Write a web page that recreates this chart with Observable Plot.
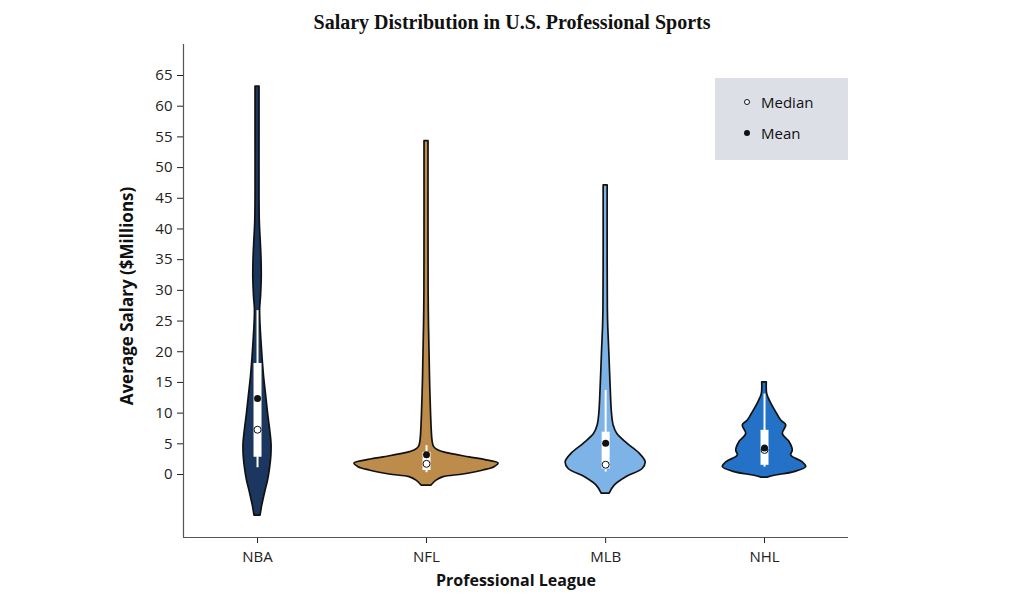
<!DOCTYPE html>
<html>
<head>
<meta charset="utf-8">
<script src="https://cdn.jsdelivr.net/npm/d3@7"></script>
<script src="https://cdn.jsdelivr.net/npm/@observablehq/plot@0.6"></script>
<style>
  html, body { margin: 0; padding: 0; background: #fff; }
  #wrap { position: relative; width: 1024px; height: 602px; overflow: hidden; }
  #title { height: 40px; line-height: 44px; text-align: center; font-family: "Liberation Serif", "Times New Roman", serif; font-weight: bold; font-size: 20px; color: #111; }
  #legend { position: absolute; left: 715px; top: 78px; width: 133px; height: 82px; background: #dcdfe6; font-family: "Open Sans", sans-serif; font-size: 15px; color: #111; }
  .li { position: absolute; left: 29px; height: 20px; display: flex; align-items: center; }
  .mk { width: 6px; height: 6px; border-radius: 50%; box-sizing: border-box; margin-right: 11px; }
</style>
</head>
<body>
<div id="wrap">
  <div id="title">Salary Distribution in U.S. Professional Sports</div>
  <div id="chart"></div>
  <div id="legend">
    <div class="li" style="top:14px"><span class="mk" style="border:1.2px solid #111;background:#fff"></span>Median</div>
    <div class="li" style="top:45px"><span class="mk" style="background:#111"></span>Mean</div>
  </div>
</div>
<script>
// ---- data ----
const leagues = ["NBA", "NFL", "MLB", "NHL"];
const positions = [0, 1, 2.06, 3];
const colors = ["#1b365f", "#bd8c4b", "#7db3e6", "#2372c8"];
const yTicks = [0, 5, 10, 15, 20, 25, 30, 35, 40, 45, 50, 55, 60, 65];

// density profiles (salary level, relative density)
const nbaSalary  = [63.2, 55, 45, 41, 38, 35, 32, 29, 27, 25, 22, 19, 16, 13, 10, 7, 5, 3, 1, -1, -3, -5, -6.7];
const nbaDensity = [2.0, 2.0, 2.0, 2.3, 3.2, 4.0, 4.2, 3.5, 2.6, 2.8, 3.8, 5.0, 6.5, 8.5, 10.5, 12.8, 14, 13.8, 12.5, 10.5, 7.5, 4.8, 3];

const nflSalary  = [54.3, 40, 30, 25, 20, 15, 10, 7, 5.5, 4.5, 3.9, 3.4, 2.8, 2.3, 1.8, 1.2, 0.65, 0.0, -0.43, -1.0, -1.8];
const nflDensity = [2, 2, 2.1, 2.4, 3, 3.6, 4.5, 5.3, 6, 7.5, 12, 23, 43, 60, 72, 68, 57, 37, 17, 10, 5];

const mlbSalary  = [47.1, 35, 27, 24, 19.7, 14.2, 10, 8.0, 6.6, 5.0, 3.4, 2.0, 0.9, -0.4, -1.8, -3.1];
const mlbDensity = [2, 2, 2.2, 2.6, 3.7, 5, 6.3, 8, 11.7, 22, 34, 40, 37, 21, 9, 4];

const nhlSalary  = [15.0, 13.1, 11.8, 9.9, 8.8, 8.0, 6.6, 5.3, 3.9, 3.1, 2.0, 1.2, 0.4, -0.2, -0.5];
const nhlDensity = [2.3, 2.7, 6, 12.5, 16.7, 21.7, 18.3, 25, 28.3, 26.7, 38, 41.7, 30, 10, 3];

// summary statistics
const q1 = [2.8, 0.65, 0.9, 1.5];
const q3 = [18.1, 3.6, 6.9, 7.2];
const whiskerLow = [1.1, 0.3, 0.4, 1.2];
const whiskerHigh = [26.7, 4.7, 13.7, 13.1];
const medians = [7.3, 1.74, 1.6, 4.0];
const means = [12.4, 3.2, 5.1, 4.3];

// ---- build tables ----
const profiles = [[nbaSalary, nbaDensity], [nflSalary, nflDensity], [mlbSalary, mlbDensity], [nhlSalary, nhlDensity]];
const rows = [];
profiles.forEach(([s, d], i) => s.forEach((v, j) => rows.push({league: leagues[i], pos: positions[i], y: v, d: d[j]})));
const stats = leagues.map((l, i) => ({league: l, pos: positions[i], q1: q1[i], q3: q3[i], lo: whiskerLow[i], hi: whiskerHigh[i], median: medians[i], mean: means[i]}));

const k = 1 / 169; // density -> x units
const xDomain = [-0.438, 3.497];
const yDomain = [-10.26, 70.05];
const font = "'Open Sans', sans-serif";

const chart = Plot.plot({
  width: 1024,
  height: 562,
  marginTop: 4,
  marginBottom: 65,
  marginLeft: 183,
  marginRight: 176,
  style: {fontFamily: font, fontSize: "15px", color: "#222", background: "transparent"},
  x: {domain: xDomain, ticks: positions, tickFormat: d => leagues[positions.indexOf(d)], tickSize: 6, tickPadding: 8, label: null},
  y: {domain: yDomain, ticks: yTicks, tickSize: 6, tickPadding: 5, label: null},
  color: {domain: leagues, range: colors},
  marks: [
    Plot.areaX(rows, {y: "y", x1: d => d.pos - d.d * k, x2: d => d.pos + d.d * k, z: "league", fill: "league", stroke: "#111", strokeWidth: 1.7, curve: "catmull-rom"}),
    Plot.ruleX(stats, {x: "pos", y1: "lo", y2: "hi", stroke: "white", strokeWidth: 2}),
    Plot.ruleX(stats, {x: "pos", y1: "q1", y2: "q3", stroke: "white", strokeWidth: 8}),
    Plot.dot(stats, {x: "pos", y: "median", r: 3.5, fill: "white", stroke: "#111", strokeWidth: 1}),
    Plot.dot(stats, {x: "pos", y: "mean", r: 3.5, fill: "#111"}),
    Plot.ruleX([xDomain[0]], {stroke: "#555", strokeWidth: 1.2}),
    Plot.ruleY([yDomain[0]], {stroke: "#555", strokeWidth: 1.2}),
    Plot.text(["Professional League"], {frameAnchor: "bottom", dy: 48, textAnchor: "middle", fontWeight: "bold", fontSize: 16, fill: "#111"}),
    Plot.text(["Average Salary ($Millions)"], {frameAnchor: "left", dx: -56, dy: 5, rotate: -90, textAnchor: "middle", fontWeight: "bold", fontSize: 17, fill: "#111"})
  ]
});
document.getElementById("chart").appendChild(chart);
</script>
</body>
</html>
